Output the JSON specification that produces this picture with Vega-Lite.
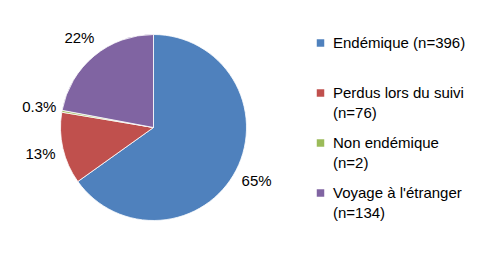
{
  "$schema": "https://vega.github.io/schema/vega-lite/v6.json",
  "width": 307,
  "height": 255,
  "padding": 0,
  "background": "white",
  "config": {
    "view": {"stroke": null},
    "font": "Liberation Sans",
    "style": {"guide-label": {"lineHeight": 20}}
  },
  "data": {
    "values": [
      {"categorie": "Endémique (n=396)", "n": 396, "ordre": 1, "pct": "65%"},
      {"categorie": "Perdus lors du suivi (n=76)", "n": 76, "ordre": 2, "pct": "13%"},
      {"categorie": "Non endémique (n=2)", "n": 2, "ordre": 3, "pct": "0.3%"},
      {"categorie": "Voyage à l'étranger (n=134)", "n": 134, "ordre": 4, "pct": "22%"}
    ]
  },
  "encoding": {
    "theta": {"field": "n", "type": "quantitative", "stack": true},
    "order": {"field": "ordre", "type": "quantitative"}
  },
  "layer": [
    {
      "mark": {"type": "arc", "outerRadius": 93, "stroke": "white", "strokeWidth": 0.8},
      "encoding": {
        "color": {
          "field": "categorie",
          "type": "nominal",
          "sort": ["Endémique (n=396)", "Perdus lors du suivi (n=76)", "Non endémique (n=2)", "Voyage à l'étranger (n=134)"],
          "scale": {
            "domain": ["Endémique (n=396)", "Perdus lors du suivi (n=76)", "Non endémique (n=2)", "Voyage à l'étranger (n=134)"],
            "range": ["#4F81BD", "#C0504D", "#9BBB59", "#8064A2"]
          },
          "legend": {
            "orient": "none",
            "legendX": 313,
            "legendY": 35.5,
            "title": null,
            "symbolType": "square",
            "symbolSize": 56,
            "symbolStrokeWidth": 0,
            "labelFontSize": 15,
            "labelColor": "black",
            "labelLimit": 250,
            "labelOffset": 5,
            "rowPadding": 14,
            "labelBaseline": "middle",
            "labelExpr": "datum.label == 'Endémique (n=396)' ? ['Endémique (n=396)', ' '] : [slice(datum.label, 0, indexof(datum.label, ' (n=')), slice(datum.label, indexof(datum.label, ' (n=') + 1)]"
          }
        }
      }
    },
    {
      "mark": {"type": "text", "radius": 116, "fontSize": 15, "color": "black"},
      "encoding": {
        "text": {"field": "pct", "type": "nominal"}
      }
    }
  ]
}
